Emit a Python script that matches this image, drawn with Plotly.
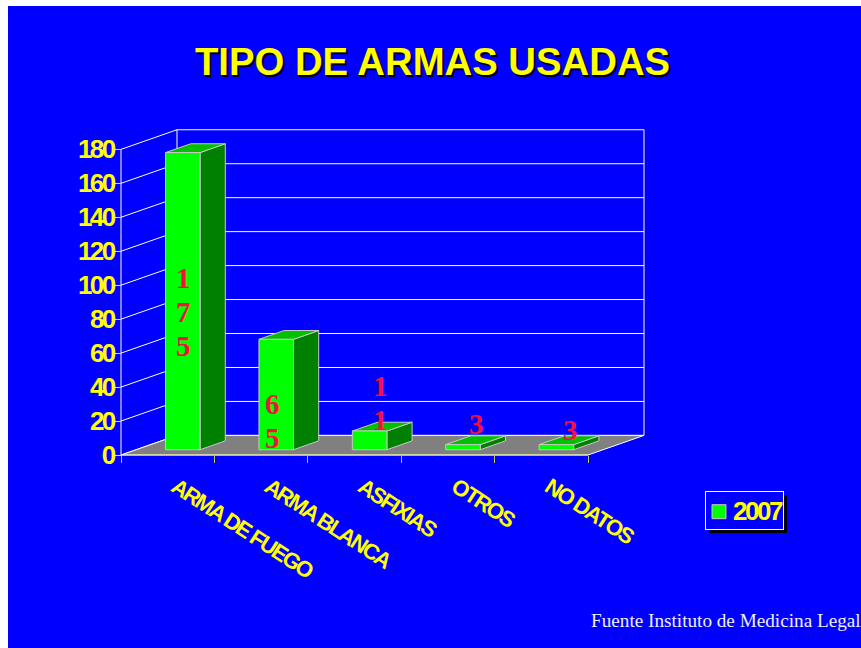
import plotly.graph_objects as go

# ---- data ----
categories = ["ARMA DE FUEGO", "ARMA BLANCA", "ASFIXIAS", "OTROS", "NO DATOS"]
values = [175, 65, 11, 3, 3]
series_name = "2007"
y_ticks = [0, 20, 40, 60, 80, 100, 120, 140, 160, 180]
title_text = "TIPO DE ARMAS USADAS"
source_text = "Fuente Instituto de Medicina Legal"

# ---- layout geometry (pixels on the page) ----
W, H = 861, 648
PL, PT = 8, 6                    # blue panel begins here
X0, Y0 = 121, 455                # chart origin (front corner)
CAT_PX = 93.4                    # pixels per category
VAL_PX = 1.698                   # pixels per value unit
DX, DY = 56, 19.6                # depth offset of back wall
BAR_W = 0.37                     # bar width in category units
D0, D1 = 0.27, 0.72              # bar depth band
YMAX = 180
NCAT = len(categories)

GREEN, SIDE, TOP = "#00FF00", "#008000", "#00C000"
EDGE = "#C8C8C8"
YEL = "#FFFF00"
RED = "#F8103C"


def proj(u, v, d=0.0):
    """category position, value, depth -> data coords of the 2-D axes."""
    return u + d * DX / CAT_PX, v + d * DY / VAL_PX


def poly(pts):
    xs, ys = zip(*[proj(*p) for p in pts])
    return list(xs) + [xs[0]], list(ys) + [ys[0]]


fig = go.Figure()


def face(pts, fill, line, width=1.0):
    x, y = poly(pts)
    fig.add_trace(go.Scatter(x=x, y=y, mode="lines", fill="toself", fillcolor=fill,
                             line=dict(color=line, width=width), showlegend=False,
                             hoverinfo="skip"))


def seg(p, q, color="white", width=1.0):
    x, y = poly([p, q])
    fig.add_trace(go.Scatter(x=x[:2], y=y[:2], mode="lines",
                             line=dict(color=color, width=width), showlegend=False,
                             hoverinfo="skip"))


# walls and floor
for t in y_ticks:
    seg((0, t, 0), (0, t, 1))
    seg((0, t, 1), (NCAT, t, 1))
seg((0, 0, 0), (0, YMAX, 0))
seg((0, 0, 1), (0, YMAX, 1))
seg((NCAT, 0, 1), (NCAT, YMAX, 1))
face([(0, 0, 0), (0, 0, 1), (NCAT, 0, 1), (NCAT, 0, 0)], "#808080", "white")
seg((0, 0, 0), (NCAT, 0, 0), "#E8E880", 1.2)

# bars
for i, val in enumerate(values):
    a = i + 0.5 - BAR_W / 2
    b = i + 0.5 + BAR_W / 2
    face([(b, 0, D0), (b, 0, D1), (b, val, D1), (b, val, D0)], SIDE, EDGE)
    face([(a, val, D0), (a, val, D1), (b, val, D1), (b, val, D0)], TOP, EDGE)
    face([(a, 0, D0), (b, 0, D0), (b, val, D0), (a, val, D0)], GREEN, EDGE)

# legend entry
fig.add_trace(go.Scatter(x=[None], y=[None], mode="markers", name=series_name,
                         marker=dict(symbol="square", size=14, color=GREEN,
                                     line=dict(color=EDGE, width=1))))

# data labels: digits stacked one above the other, wrapped by the bar width
label_centers = [(183.5, 312), (272, 421), (380, 403), (476, 424), (570, 430)]
annotations = []
for val, (cx, cy) in zip(values, label_centers):
    digits = str(val)
    for k, ch in enumerate(digits):
        py = cy + (k - (len(digits) - 1) / 2) * 34
        annotations.append(dict(x=(cx - X0) / CAT_PX, y=(Y0 - py) / VAL_PX, text=ch,
                                showarrow=False, xanchor="center", yanchor="middle",
                                font=dict(family="Liberation Serif", size=29, color=RED,
                                          weight="bold")))

annotations.append(dict(x=(589 - PL) / (W - PL), y=(H - 620.5) / (H - PT), xref="paper", yref="paper",
                        text=source_text, showarrow=False, xanchor="left", yanchor="middle",
                        font=dict(family="Liberation Serif", size=19.2, color="#F0F0FF")))

fig.update_layout(
    width=W, height=H, autosize=False,
    margin=dict(l=PL, t=PT, r=0, b=0, pad=0),
    paper_bgcolor="white", plot_bgcolor="#0000FF",
    title=dict(text=title_text, x=432.5 / W, y=1 - 62 / H, xanchor="center", yanchor="middle",
               xref="container", yref="container",
               font=dict(family="Liberation Sans", size=38.3, color=YEL, weight="bold",
                         shadow="2px 2px 0px black")),
    xaxis=dict(range=[(PL - X0) / CAT_PX, (W - X0) / CAT_PX],
               domain=[0, 1], anchor="free", position=(H - Y0) / (H - PT),
               tickvals=[i + 0.585 for i in range(NCAT)], ticktext=categories,
               tickangle=33, ticks="", showgrid=False, zeroline=False, showline=False,
               ticklabelstandoff=14,
               tickfont=dict(family="Liberation Sans", size=22, color=YEL, weight="bold"),
               minor=dict(tickvals=list(range(NCAT + 1)), ticks="outside", ticklen=7,
                          tickcolor="#C8C860", tickwidth=1, showgrid=False)),
    yaxis=dict(range=[(Y0 - H) / VAL_PX, (Y0 - PT) / VAL_PX],
               domain=[0, 1], anchor="free", position=(X0 - PL) / (W - PL),
               tickvals=y_ticks, ticktext=[str(t) for t in y_ticks],
               ticks="outside", ticklen=6, tickcolor="#D0D0FF", tickwidth=1,
               showgrid=False, zeroline=False, showline=False,
               ticklabelstandoff=-4,
               tickfont=dict(family="Liberation Sans", size=26, color=YEL, weight="bold")),
    legend=dict(x=(705 - PL) / (W - PL), y=(H - 490.5) / (H - PT), xanchor="left", yanchor="top",
                bgcolor="#0000FF", bordercolor="white", borderwidth=1,
                entrywidth=30, entrywidthmode="pixels",
                font=dict(family="Liberation Sans", size=18, color=YEL, weight="bold")),
    shapes=[dict(type="rect", xref="paper", yref="paper", layer="above",
                 x0=(709 - PL) / (W - PL), x1=(787 - PL) / (W - PL),
                 y0=(H - 533) / (H - PT), y1=(H - 495) / (H - PT),
                 fillcolor="black", line=dict(width=0))],
    annotations=annotations,
    showlegend=True,
)

post = """
document.documentElement.style.margin='0';
document.body.style.margin='0';
document.body.style.overflow='hidden';
document.querySelectorAll('.xtick text').forEach(t=>t.style.letterSpacing='-1.8px');
document.querySelectorAll('.ytick text').forEach(t=>t.style.letterSpacing='-2.5px');
document.querySelectorAll('.legendtext').forEach(t=>{
  t.style.letterSpacing='-2.5px';
  t.style.fontSize='26px';
  t.setAttribute('x', parseFloat(t.getAttribute('x'))-13);
  t.setAttribute('y', parseFloat(t.getAttribute('y'))+3);
});
document.querySelectorAll('.legendsymbols').forEach(t=>{
  t.setAttribute('transform','translate(-7,2)');
});
document.querySelectorAll('.legend rect.bg').forEach(t=>{
  t.setAttribute('width','78');
});
"""
fig.write_html("out.html", post_script=post, config=dict(displayModeBar=False))
